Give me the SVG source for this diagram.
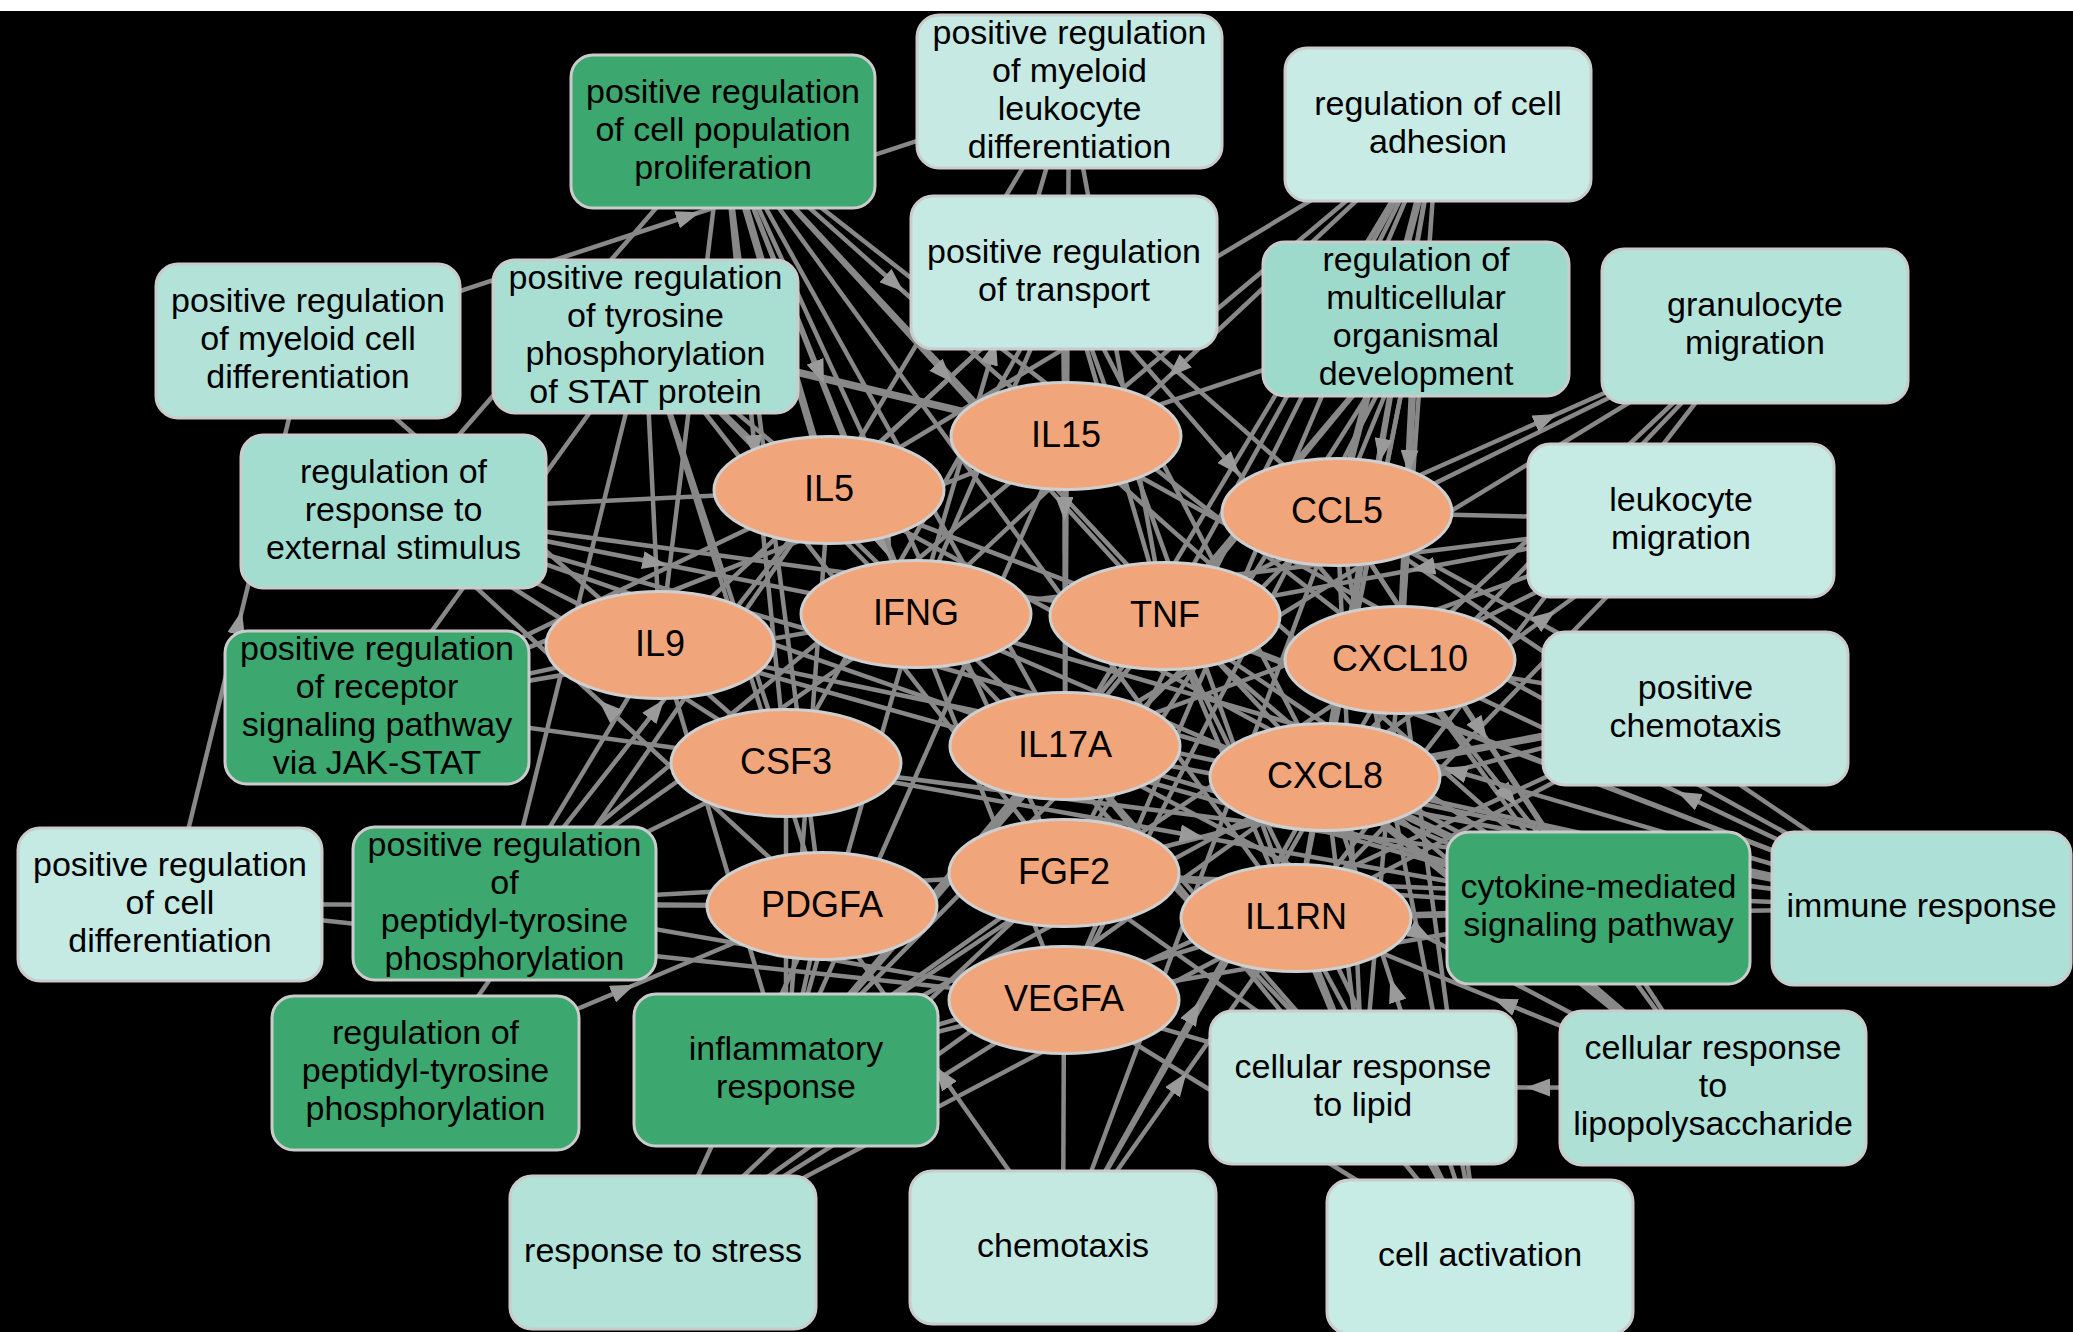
<svg xmlns="http://www.w3.org/2000/svg" width="2073" height="1332" viewBox="0 0 2073 1332">
<defs>
<style>
.e line,.e polyline{stroke:#888;stroke-width:4.5;fill:none}
.e .w{stroke-width:7.5}
.e polyline{marker-mid:url(#arr)}
.t rect{stroke:#cbcbcb;stroke-width:3}
.g ellipse{fill:#f0a57b;stroke:#cfcfcf;stroke-width:3}
text{font-family:"Liberation Sans",Arial,sans-serif;font-size:34px;text-anchor:middle;fill:#000}
.g text{font-size:36px}
.dk{fill:#3ca76f}
</style>
<marker id="arr" viewBox="0 0 24 18" refX="12" refY="9" markerWidth="24" markerHeight="18" markerUnits="userSpaceOnUse" orient="auto"><path d="M0,0 L24,9 L0,18 z" fill="#9a9a9a"/></marker>
</defs>
<rect x="0" y="0" width="2073" height="1332" fill="#000"/>
<rect x="0" y="0" width="2073" height="11" fill="#fff"/>
<g id="connectors" class="e">
<line x1="723" y1="131" x2="660" y2="645"/>
<line class="w" x1="723" y1="131" x2="829" y2="490"/>
<line x1="723" y1="131" x2="822" y2="906"/>
<line x1="723" y1="131" x2="1064" y2="873"/>
<line x1="723" y1="131" x2="1065" y2="746"/>
<line x1="723" y1="131" x2="1400" y2="660"/>
<line x1="723" y1="131" x2="1325" y2="777"/>
<line x1="723" y1="131" x2="1296" y2="918"/>
<line x1="1069" y1="91" x2="829" y2="490"/>
<line x1="1069" y1="91" x2="1165" y2="616"/>
<line x1="1069" y1="91" x2="1065" y2="746"/>
<line x1="1438" y1="124" x2="1066" y2="436"/>
<line x1="1438" y1="124" x2="829" y2="490"/>
<line x1="1438" y1="124" x2="1165" y2="616"/>
<line class="w" x1="1438" y1="124" x2="1337" y2="512"/>
<line x1="1438" y1="124" x2="1400" y2="660"/>
<line x1="1438" y1="124" x2="1296" y2="918"/>
<line x1="1438" y1="124" x2="1065" y2="746"/>
<line x1="1438" y1="124" x2="1064" y2="1000"/>
<line x1="1438" y1="124" x2="1064" y2="873"/>
<line x1="1064" y1="272" x2="829" y2="490"/>
<line x1="1064" y1="272" x2="660" y2="645"/>
<line class="w" x1="1064" y1="272" x2="1066" y2="436"/>
<line x1="1064" y1="272" x2="1165" y2="616"/>
<line x1="1064" y1="272" x2="916" y2="614"/>
<line x1="1064" y1="272" x2="1337" y2="512"/>
<line x1="1064" y1="272" x2="1325" y2="777"/>
<line x1="1064" y1="272" x2="1296" y2="918"/>
<line x1="1064" y1="272" x2="786" y2="763"/>
<line x1="1416" y1="319" x2="1337" y2="512"/>
<line x1="1416" y1="319" x2="1325" y2="777"/>
<line x1="1416" y1="319" x2="1165" y2="616"/>
<line x1="1416" y1="319" x2="1296" y2="918"/>
<line x1="1416" y1="319" x2="1065" y2="746"/>
<line x1="1416" y1="319" x2="1064" y2="873"/>
<line x1="1416" y1="319" x2="1064" y2="1000"/>
<line x1="1416" y1="319" x2="1066" y2="436"/>
<line x1="1755" y1="326" x2="1165" y2="616"/>
<line x1="1755" y1="326" x2="1400" y2="660"/>
<line x1="1755" y1="326" x2="1325" y2="777"/>
<line x1="1755" y1="326" x2="1065" y2="746"/>
<line x1="1755" y1="326" x2="1296" y2="918"/>
<line x1="308" y1="341" x2="786" y2="763"/>
<line x1="645" y1="336" x2="660" y2="645"/>
<line x1="645" y1="336" x2="829" y2="490"/>
<line x1="645" y1="336" x2="916" y2="614"/>
<line x1="645" y1="336" x2="786" y2="763"/>
<line class="w" x1="645" y1="336" x2="1066" y2="436"/>
<line x1="645" y1="336" x2="822" y2="906"/>
<line x1="645" y1="336" x2="1065" y2="746"/>
<line x1="645" y1="336" x2="1064" y2="873"/>
<line x1="393" y1="511" x2="660" y2="645"/>
<line x1="393" y1="511" x2="829" y2="490"/>
<line x1="393" y1="511" x2="786" y2="763"/>
<line x1="393" y1="511" x2="1165" y2="616"/>
<line x1="393" y1="511" x2="1325" y2="777"/>
<line x1="393" y1="511" x2="1065" y2="746"/>
<line x1="393" y1="511" x2="723" y2="131"/>
<line x1="377" y1="707" x2="660" y2="645"/>
<line x1="377" y1="707" x2="916" y2="614"/>
<line x1="377" y1="707" x2="829" y2="490"/>
<line x1="377" y1="707" x2="786" y2="763"/>
<line x1="377" y1="707" x2="1066" y2="436"/>
<line x1="377" y1="707" x2="645" y2="336"/>
<line x1="170" y1="904" x2="822" y2="906"/>
<line x1="170" y1="904" x2="1064" y2="1000"/>
<line x1="504" y1="903" x2="660" y2="645"/>
<line x1="504" y1="903" x2="786" y2="763"/>
<line x1="504" y1="903" x2="822" y2="906"/>
<line x1="504" y1="903" x2="1064" y2="873"/>
<line x1="504" y1="903" x2="1064" y2="1000"/>
<line x1="504" y1="903" x2="916" y2="614"/>
<line x1="504" y1="903" x2="1066" y2="436"/>
<line x1="504" y1="903" x2="645" y2="336"/>
<line x1="425" y1="1073" x2="829" y2="490"/>
<line x1="786" y1="1070" x2="786" y2="763"/>
<line x1="786" y1="1070" x2="916" y2="614"/>
<line x1="786" y1="1070" x2="1165" y2="616"/>
<line class="w" x1="786" y1="1070" x2="1065" y2="746"/>
<line x1="786" y1="1070" x2="1325" y2="777"/>
<line x1="786" y1="1070" x2="1400" y2="660"/>
<line x1="786" y1="1070" x2="1296" y2="918"/>
<line x1="786" y1="1070" x2="1337" y2="512"/>
<line x1="786" y1="1070" x2="1064" y2="1000"/>
<line x1="786" y1="1070" x2="660" y2="645"/>
<line x1="786" y1="1070" x2="822" y2="906"/>
<line x1="786" y1="1070" x2="1064" y2="873"/>
<line x1="786" y1="1070" x2="829" y2="490"/>
<line x1="786" y1="1070" x2="1066" y2="436"/>
<line x1="663" y1="1252" x2="822" y2="906"/>
<line x1="663" y1="1252" x2="1064" y2="873"/>
<line x1="663" y1="1252" x2="1296" y2="918"/>
<line x1="663" y1="1252" x2="1064" y2="1000"/>
<line x1="663" y1="1252" x2="1325" y2="777"/>
<line x1="1063" y1="1247" x2="1400" y2="660"/>
<line x1="1063" y1="1247" x2="1337" y2="512"/>
<line x1="1063" y1="1247" x2="1064" y2="1000"/>
<line x1="1363" y1="1087" x2="1064" y2="1000"/>
<line class="w" x1="1363" y1="1087" x2="1296" y2="918"/>
<line x1="1363" y1="1087" x2="1325" y2="777"/>
<line x1="1363" y1="1087" x2="1400" y2="660"/>
<line x1="1363" y1="1087" x2="1165" y2="616"/>
<line x1="1363" y1="1087" x2="1065" y2="746"/>
<line x1="1363" y1="1087" x2="1337" y2="512"/>
<line x1="1363" y1="1087" x2="1064" y2="873"/>
<line x1="1363" y1="1087" x2="916" y2="614"/>
<line x1="1480" y1="1256" x2="1296" y2="918"/>
<line x1="1480" y1="1256" x2="1400" y2="660"/>
<line x1="1480" y1="1256" x2="1165" y2="616"/>
<line x1="1480" y1="1256" x2="1065" y2="746"/>
<line x1="1480" y1="1256" x2="1337" y2="512"/>
<line x1="1480" y1="1256" x2="1064" y2="1000"/>
<line class="w" x1="1713" y1="1088" x2="1325" y2="777"/>
<line x1="1713" y1="1088" x2="1165" y2="616"/>
<line x1="1713" y1="1088" x2="1400" y2="660"/>
<line x1="1713" y1="1088" x2="1337" y2="512"/>
<line x1="1598" y1="908" x2="829" y2="490"/>
<line x1="1598" y1="908" x2="1066" y2="436"/>
<line x1="1598" y1="908" x2="916" y2="614"/>
<line x1="1598" y1="908" x2="1165" y2="616"/>
<line x1="1598" y1="908" x2="660" y2="645"/>
<line x1="1598" y1="908" x2="1065" y2="746"/>
<line class="w" x1="1598" y1="908" x2="1325" y2="777"/>
<line x1="1598" y1="908" x2="1296" y2="918"/>
<line x1="1598" y1="908" x2="1064" y2="1000"/>
<line x1="1598" y1="908" x2="1064" y2="873"/>
<line x1="1922" y1="908" x2="1337" y2="512"/>
<line x1="1922" y1="908" x2="1325" y2="777"/>
<line x1="1922" y1="908" x2="1165" y2="616"/>
<line x1="1922" y1="908" x2="1066" y2="436"/>
<line x1="1922" y1="908" x2="829" y2="490"/>
<line x1="1922" y1="908" x2="1065" y2="746"/>
<line x1="1922" y1="908" x2="1296" y2="918"/>
<line x1="1922" y1="908" x2="1064" y2="873"/>
<line x1="1922" y1="908" x2="786" y2="763"/>
<line x1="1922" y1="908" x2="660" y2="645"/>
<line x1="1695" y1="708" x2="1337" y2="512"/>
<line x1="1695" y1="708" x2="1400" y2="660"/>
<line class="w" x1="1695" y1="708" x2="1325" y2="777"/>
<line x1="1695" y1="708" x2="1064" y2="873"/>
<line x1="1695" y1="708" x2="1064" y2="1000"/>
<line x1="1695" y1="708" x2="1296" y2="918"/>
<line x1="1681" y1="520" x2="1337" y2="512"/>
<line x1="1681" y1="520" x2="1400" y2="660"/>
<line x1="1681" y1="520" x2="1296" y2="918"/>
<line x1="1681" y1="520" x2="916" y2="614"/>
<line x1="1681" y1="520" x2="1065" y2="746"/>
<polyline points="308,341 688.5,216 1069,91"/>
<polyline points="723,131 894.5,283.5 1066,436"/>
<polyline points="723,131 944,373.5 1165,616"/>
<polyline points="723,131 754.5,447 786,763"/>
<polyline points="723,131 886.7,548 1064,1000"/>
<polyline points="723,131 819.5,372.5 916,614"/>
<polyline points="1438,124 1177,369 916,614"/>
<polyline points="1337,512 1546,419 1755,326"/>
<polyline points="1438,124 1381.5,450.5 1325,777"/>
<polyline class="w" points="1416,319 1409,462 1400,660"/>
<polyline points="1681,520 1423,568 1165,616"/>
<polyline points="1337,512 1480.5,729.8 1598,908"/>
<polyline points="1400,660 1508.9,796.4 1598,908"/>
<polyline points="1922,908 1688,797 1400,660"/>
<polyline points="425,1073 623.5,989.5 822,906"/>
<polyline points="393,511 654.5,562.5 916,614"/>
<polyline points="822,906 607.5,708.5 393,511"/>
<polyline points="504,903 656.7,709 829,490"/>
<polyline points="170,904 239,622.5 308,341"/>
<polyline points="1063,1247 1194,1012 1325,777"/>
<polyline points="1063,1247 1179.5,1082.5 1296,918"/>
<polyline points="1063,1247 942.5,1076.5 822,906"/>
<polyline points="1713,1088 1504.5,1003 1296,918"/>
<polyline points="1713,1088 1538,1087.5 1363,1087"/>
<polyline points="1064,272 1064.5,509 1065,746"/>
<polyline points="1064,272 1232,466 1400,660"/>
<polyline points="786,763 1192,835.5 1598,908"/>
<polyline points="1065,746 1421,934 1713,1088"/>
<polyline points="1325,777 1545.7,617.7 1681,520"/>
<polyline points="1480,1256 1394,990 1325,777"/>
<polyline points="916,614 992.5,352.5 1069,91"/>
<polyline points="1922,908 1455,771 916,614"/>
</g>
<g id="n-prolif" class="t"><rect class="dk" x="571" y="55" width="304" height="153" rx="22"/><text x="723" y="102.5"><tspan x="723">positive regulation</tspan><tspan x="723" dy="38">of cell population</tspan><tspan x="723" dy="38">proliferation</tspan></text></g>
<g id="n-myeloid-leuk" class="t"><rect fill="#c6eae3" x="917" y="15" width="305" height="153" rx="22"/><text x="1069.5" y="43.5"><tspan x="1069.5">positive regulation</tspan><tspan x="1069.5" dy="38">of myeloid</tspan><tspan x="1069.5" dy="38">leukocyte</tspan><tspan x="1069.5" dy="38">differentiation</tspan></text></g>
<g id="n-adhesion" class="t"><rect fill="#c8ebe5" x="1285" y="48" width="306" height="153" rx="22"/><text x="1438" y="114.5"><tspan x="1438">regulation of cell</tspan><tspan x="1438" dy="38">adhesion</tspan></text></g>
<g id="n-transport" class="t"><rect fill="#c5eae3" x="911" y="196" width="306" height="153" rx="22"/><text x="1064" y="262.5"><tspan x="1064">positive regulation</tspan><tspan x="1064" dy="38">of transport</tspan></text></g>
<g id="n-multicell" class="t"><rect fill="#9ddacc" x="1263" y="242" width="306" height="154" rx="22"/><text x="1416" y="271"><tspan x="1416">regulation of</tspan><tspan x="1416" dy="38">multicellular</tspan><tspan x="1416" dy="38">organismal</tspan><tspan x="1416" dy="38">development</tspan></text></g>
<g id="n-granulocyte" class="t"><rect fill="#b4e3da" x="1602" y="249" width="306" height="154" rx="22"/><text x="1755" y="316"><tspan x="1755">granulocyte</tspan><tspan x="1755" dy="38">migration</tspan></text></g>
<g id="n-myeloid-cell" class="t"><rect fill="#b3e2d9" x="156" y="264" width="304" height="154" rx="22"/><text x="308" y="312"><tspan x="308">positive regulation</tspan><tspan x="308" dy="38">of myeloid cell</tspan><tspan x="308" dy="38">differentiation</tspan></text></g>
<g id="n-stat" class="t"><rect fill="#a9ded3" x="493" y="260" width="305" height="153" rx="22"/><text x="645.5" y="288.5"><tspan x="645.5">positive regulation</tspan><tspan x="645.5" dy="38">of tyrosine</tspan><tspan x="645.5" dy="38">phosphorylation</tspan><tspan x="645.5" dy="38">of STAT protein</tspan></text></g>
<g id="n-ext-stim" class="t"><rect fill="#a3ddd0" x="241" y="435" width="305" height="153" rx="22"/><text x="393.5" y="482.5"><tspan x="393.5">regulation of</tspan><tspan x="393.5" dy="38">response to</tspan><tspan x="393.5" dy="38">external stimulus</tspan></text></g>
<g id="n-jakstat" class="t"><rect class="dk" x="225" y="631" width="304" height="153" rx="22"/><text x="377" y="659.5"><tspan x="377">positive regulation</tspan><tspan x="377" dy="38">of receptor</tspan><tspan x="377" dy="38">signaling pathway</tspan><tspan x="377" dy="38">via JAK-STAT</tspan></text></g>
<g id="n-cell-diff" class="t"><rect fill="#c5e9e3" x="18" y="828" width="304" height="153" rx="22"/><text x="170" y="875.5"><tspan x="170">positive regulation</tspan><tspan x="170" dy="38">of cell</tspan><tspan x="170" dy="38">differentiation</tspan></text></g>
<g id="n-pos-peptidyl" class="t"><rect class="dk" x="353" y="827" width="303" height="153" rx="22"/><text x="504.5" y="855.5"><tspan x="504.5">positive regulation</tspan><tspan x="504.5" dy="38">of</tspan><tspan x="504.5" dy="38">peptidyl-tyrosine</tspan><tspan x="504.5" dy="38">phosphorylation</tspan></text></g>
<g id="n-reg-peptidyl" class="t"><rect class="dk" x="272" y="996" width="307" height="154" rx="22"/><text x="425.5" y="1044"><tspan x="425.5">regulation of</tspan><tspan x="425.5" dy="38">peptidyl-tyrosine</tspan><tspan x="425.5" dy="38">phosphorylation</tspan></text></g>
<g id="n-inflammatory" class="t"><rect class="dk" x="634" y="994" width="304" height="152" rx="22"/><text x="786" y="1060"><tspan x="786">inflammatory</tspan><tspan x="786" dy="38">response</tspan></text></g>
<g id="n-stress" class="t"><rect fill="#b2e2d8" x="510" y="1176" width="306" height="153" rx="22"/><text x="663" y="1261.5">response to stress</text></g>
<g id="n-chemotaxis" class="t"><rect fill="#c3e9e1" x="910" y="1171" width="306" height="153" rx="22"/><text x="1063" y="1256.5">chemotaxis</text></g>
<g id="n-lipid" class="t"><rect fill="#c2e8e0" x="1210" y="1011" width="306" height="153" rx="22"/><text x="1363" y="1077.5"><tspan x="1363">cellular response</tspan><tspan x="1363" dy="38">to lipid</tspan></text></g>
<g id="n-activation" class="t"><rect fill="#c7ebe5" x="1327" y="1180" width="306" height="154" rx="22"/><text x="1480" y="1265.5">cell activation</text></g>
<g id="n-lps" class="t"><rect fill="#aee0d6" x="1560" y="1011" width="306" height="154" rx="22"/><text x="1713" y="1059"><tspan x="1713">cellular response</tspan><tspan x="1713" dy="38">to</tspan><tspan x="1713" dy="38">lipopolysaccharide</tspan></text></g>
<g id="n-cytokine" class="t"><rect class="dk" x="1447" y="832" width="303" height="152" rx="22"/><text x="1598.5" y="898"><tspan x="1598.5">cytokine-mediated</tspan><tspan x="1598.5" dy="38">signaling pathway</tspan></text></g>
<g id="n-immune" class="t"><rect fill="#ade0d6" x="1772" y="832" width="299" height="153" rx="22"/><text x="1921.5" y="917">immune response</text></g>
<g id="n-pos-chemotaxis" class="t"><rect fill="#c0e7df" x="1543" y="632" width="305" height="153" rx="22"/><text x="1695.5" y="698.5"><tspan x="1695.5">positive</tspan><tspan x="1695.5" dy="38">chemotaxis</tspan></text></g>
<g id="n-leuk-migration" class="t"><rect fill="#c6eae4" x="1528" y="444" width="306" height="153" rx="22"/><text x="1681" y="510.5"><tspan x="1681">leukocyte</tspan><tspan x="1681" dy="38">migration</tspan></text></g>
<g id="g-IL5" class="g"><ellipse cx="829" cy="490" rx="115" ry="53.5"/><text x="829" y="501">IL5</text></g>
<g id="g-IL15" class="g"><ellipse cx="1066" cy="436" rx="115" ry="53.5"/><text x="1066" y="447">IL15</text></g>
<g id="g-CCL5" class="g"><ellipse cx="1337" cy="512" rx="115" ry="53.5"/><text x="1337" y="523">CCL5</text></g>
<g id="g-IFNG" class="g"><ellipse cx="916" cy="614" rx="115" ry="53.5"/><text x="916" y="625">IFNG</text></g>
<g id="g-TNF" class="g"><ellipse cx="1165" cy="616" rx="115" ry="53.5"/><text x="1165" y="627">TNF</text></g>
<g id="g-CXCL10" class="g"><ellipse cx="1400" cy="660" rx="115" ry="53.5"/><text x="1400" y="671">CXCL10</text></g>
<g id="g-IL9" class="g"><ellipse cx="660" cy="645" rx="114" ry="53.5"/><text x="660" y="656">IL9</text></g>
<g id="g-CSF3" class="g"><ellipse cx="786" cy="763" rx="115" ry="53.5"/><text x="786" y="774">CSF3</text></g>
<g id="g-IL17A" class="g"><ellipse cx="1065" cy="746" rx="115" ry="53.5"/><text x="1065" y="757">IL17A</text></g>
<g id="g-CXCL8" class="g"><ellipse cx="1325" cy="777" rx="115" ry="53.5"/><text x="1325" y="788">CXCL8</text></g>
<g id="g-FGF2" class="g"><ellipse cx="1064" cy="873" rx="115" ry="53.5"/><text x="1064" y="884">FGF2</text></g>
<g id="g-PDGFA" class="g"><ellipse cx="822" cy="906" rx="115" ry="53.5"/><text x="822" y="917">PDGFA</text></g>
<g id="g-IL1RN" class="g"><ellipse cx="1296" cy="918" rx="115" ry="53.5"/><text x="1296" y="929">IL1RN</text></g>
<g id="g-VEGFA" class="g"><ellipse cx="1064" cy="1000" rx="115" ry="53.5"/><text x="1064" y="1011">VEGFA</text></g>
</svg>
